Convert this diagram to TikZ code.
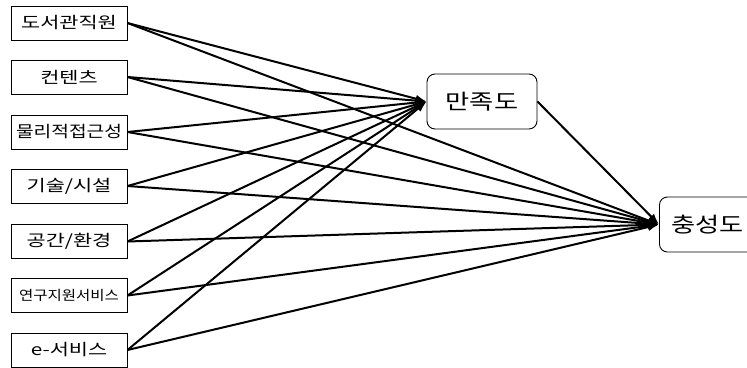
\documentclass[tikz,border=0pt]{standalone}
\usepackage{fontspec}
\newfontfamily\kr{Noto Sans CJK KR}
\usetikzlibrary{arrows.meta}
\tikzset{
  lbox/.style={draw, line width=0.9pt, minimum width=116pt, minimum height=34pt, inner sep=0pt, anchor=center},
  rbox/.style={draw, line width=0.9pt, rounded corners=8pt, minimum width=110pt, minimum height=55pt, inner sep=0pt},
  conn/.style={line width=2pt, -{Latex[length=11pt,width=8pt]}}
}
\newcommand{\lt}[1]{\scalebox{1.3}[1]{\kr\fontsize{16pt}{18pt}\selectfont #1}}
\begin{document}
\begin{tikzpicture}[x=1pt,y=-1pt]
\useasboundingbox (0,0) rectangle (747,367);
\clip (0,0) rectangle (747,367);
\node[lbox] (a1) at (69,23) {\lt{도서관직원}};
\node[lbox] (a2) at (69,77) {\lt{컨텐츠}};
\node[lbox] (a3) at (69,132) {\scalebox{1.2}[1]{\kr\fontsize{16pt}{18pt}\selectfont 물리적접근성}};
\node[lbox] (a4) at (69,186) {\lt{기술/시설}};
\node[lbox] (a5) at (69,241.5) {\lt{공간/환경}};
\node[lbox] (a6) at (69,295.5) {\scalebox{1.15}[1]{\kr\fontsize{13.5pt}{15pt}\selectfont 연구지원서비스}};
\node[lbox] (a7) at (69,350) {\lt{e-서비스}};
\node[rbox] (s) at (482,101.5) {\scalebox{1.25}[1]{\kr\fontsize{21pt}{24pt}\selectfont 만족도}};
\node[rbox, minimum width=100pt, anchor=west] (l) at (659,224.5) {\hspace*{2pt}\scalebox{1.25}[1]{\kr\fontsize{21pt}{24pt}\selectfont 충성도}\hspace*{6pt}};
\foreach \i in {1,...,7}{
  \draw[conn] (a\i.east) -- (s.west);
  \draw[conn] (a\i.east) -- (l.west);
}
\draw[conn] (s.east) -- (l.west);
\end{tikzpicture}
\end{document}
